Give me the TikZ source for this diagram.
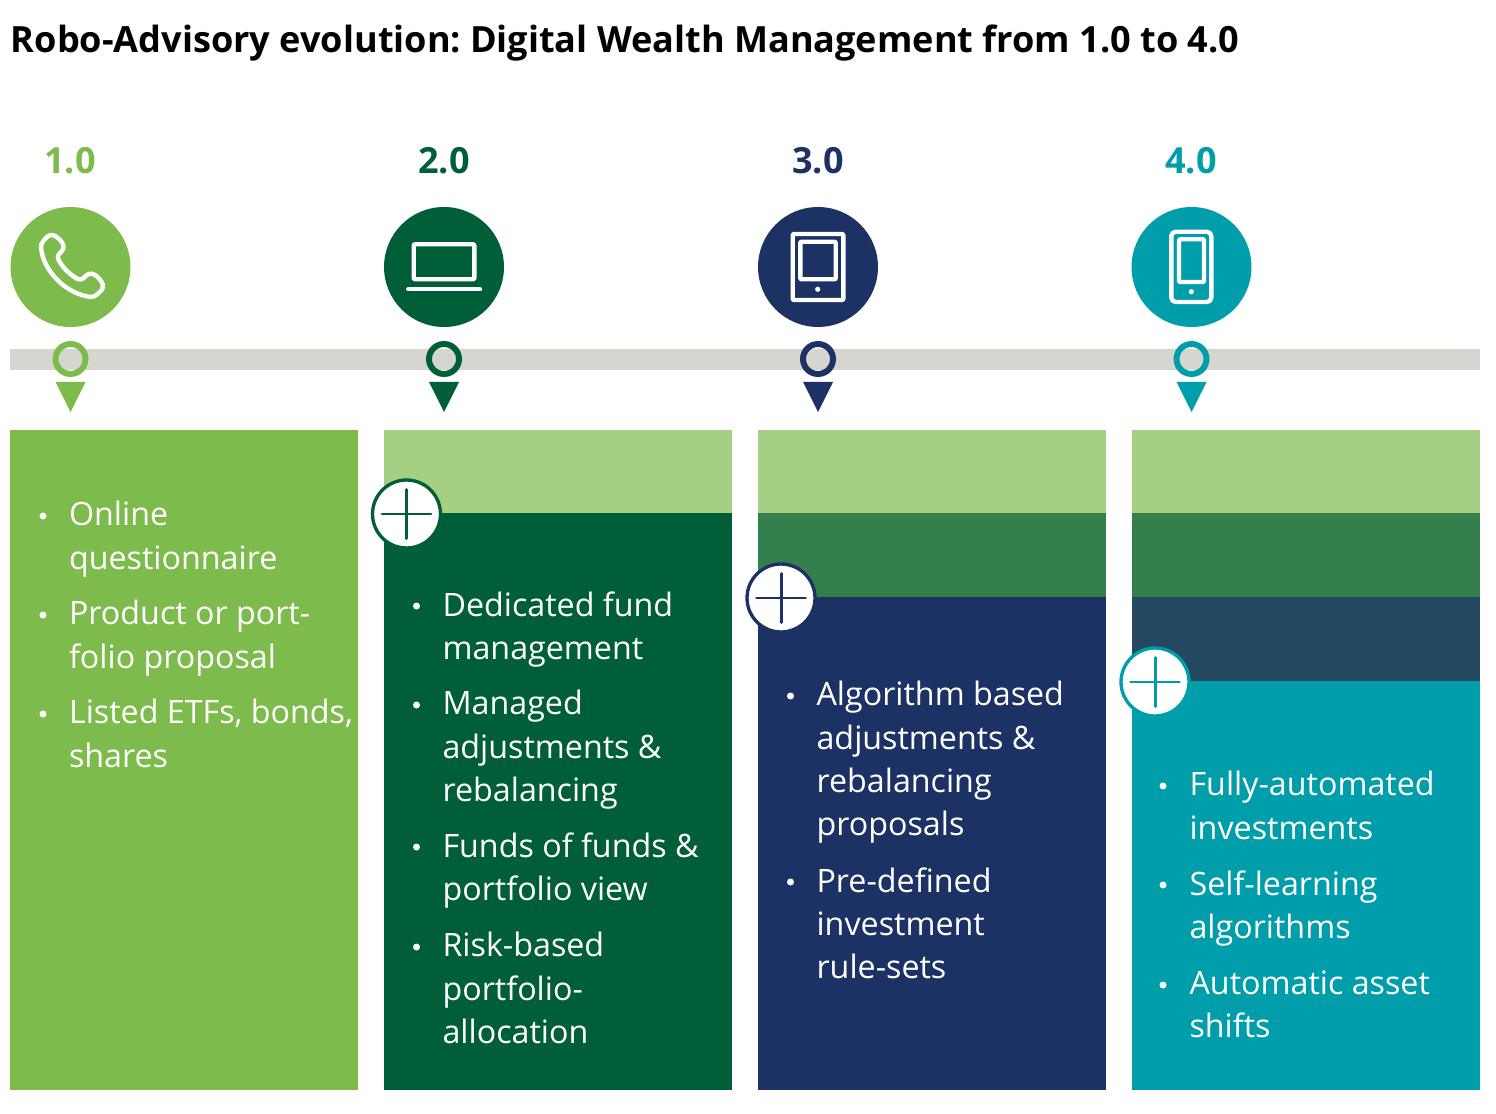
\documentclass[tikz,border=0pt]{standalone}
\usepackage{fontspec}
\setmainfont{Open Sans}
\definecolor{Leaf}{HTML}{7EBB4D}
\definecolor{LeafLight}{HTML}{A5CF82}
\definecolor{Forest}{HTML}{005F38}
\definecolor{ForestMid}{HTML}{34804D}
\definecolor{Navy}{HTML}{1D3264}
\definecolor{NavyMid}{HTML}{24485F}
\definecolor{Teal}{HTML}{009DAA}
\definecolor{Band}{HTML}{D5D6CF}
\tikzset{
    badge/.style={circle, fill=#1, minimum size=2.4cm, inner sep=0pt},
    pin/.style={circle, draw=#1, fill=none, line width=3.4pt, minimum size=0.6cm, inner sep=0pt},
    plusmark/.style={circle, draw=#1, fill=white, line width=1.9pt, minimum size=1.36cm, inner sep=0pt},
    version/.style={text=#1, font=\bfseries\fontsize{20.5}{24}\selectfont},
    itemtext/.style={anchor=north west, inner sep=0pt, text=white, align=left,
        font=\fontsize{18.35}{24.66}\selectfont, execute at begin node=\strut},
    itemdot/.style={circle, fill=white, minimum size=0.14cm, inner sep=0pt},
    icon/.style={draw=white, line width=2.5pt, line join=round, rounded corners=0.6pt},
}
\begin{document}
\begin{tikzpicture}[x=0.02cm, y=-0.02cm]
\useasboundingbox (0,0) rectangle (1496,1114);

% Title
\node[anchor=base west, inner sep=0pt, font=\bfseries\fontsize{20.55}{24}\selectfont] (title) at (10.5,53)
    {Robo-Advisory evolution:\hspace{-2pt} Digital Wealth Management from 1.0 to 4.0};

% Timeline band
\fill[Band] (10.3,349) rectangle (1480,370);

% Panel 1: phone
\begin{scope}[shift={(0,0)}]
    \node[version=Leaf] (ver1) at (70,161) {1.0};
    \node[badge=Leaf] (badge1) at (70.5,267) {};
    \draw[icon, rounded corners=2pt] (49.3,234.3) .. controls (57,236) and (63,242) .. (64,249.3) -- (56.7,256)
        .. controls (62,267) and (70,275) .. (81,280.7) -- (88.3,273.3)
        .. controls (96,274) and (102,281) .. (103.7,288.3) -- (94,297.3)
        .. controls (66,294) and (43,271) .. (40.7,244) -- cycle;
    \node[pin=Leaf] (pin1) at (70.5,359) {};
    \fill[Leaf] (55.5,382) -- (85.5,382) -- (70.5,412) -- cycle;
    \fill[Leaf] (10.3,429.5) rectangle (358.3,1090);
    \node[itemdot] (dot1a) at (43,516) {};
    \node[itemtext] (item1a) at (68.7,501) {Online\\questionnaire};
    \node[itemdot] (dot1b) at (43,615) {};
    \node[itemtext] (item1b) at (68.7,600) {Product or port-\\folio proposal};
    \node[itemdot] (dot1c) at (43,714) {};
    \node[itemtext] (item1c) at (68.7,699) {Listed ETFs, bonds,\\shares};
\end{scope}

% Panel 2: laptop
\begin{scope}[shift={(374,0)}]
    \node[version=Forest] (ver2) at (70,161) {2.0};
    \node[badge=Forest] (badge2) at (70,267) {};
    \draw[icon] (39.7,244.3) rectangle (100.3,279.3);
    \draw[icon, line cap=round] (34.3,289.3) -- (106,289.3);
    \node[pin=Forest] (pin2) at (70,359) {};
    \fill[Forest] (55,382) -- (85,382) -- (70,412) -- cycle;
    \fill[LeafLight] (10,429.5) rectangle (358,513);
    \fill[Forest] (10,513) rectangle (358,1090);
    \node[plusmark=Forest] (plus2) at (32.5,514) {};
    \draw[Forest, line width=1.7pt, line cap=round] (8,514) -- (57,514) (32.5,489.5) -- (32.5,538.5);
    \node[itemdot] (dot2a) at (42.5,606) {};
    \node[itemtext] (item2a) at (68.2,591) {Dedicated fund\\management};
    \node[itemdot] (dot2b) at (42.5,705) {};
    \node[itemtext] (item2b) at (68.2,690) {Managed\\adjustments \&\\rebalancing};
    \node[itemdot] (dot2c) at (42.5,847) {};
    \node[itemtext] (item2c) at (68.2,832) {Funds of funds \&\\portfolio view};
    \node[itemdot] (dot2d) at (42.5,947) {};
    \node[itemtext] (item2d) at (68.2,932) {Risk-based\\portfolio-\\allocation};
\end{scope}

% Panel 3: tablet
\begin{scope}[shift={(748,0)}]
    \node[version=Navy] (ver3) at (70,161) {3.0};
    \node[badge=Navy] (badge3) at (70,267) {};
    \draw[icon] (44.7,234) rectangle (95.3,300);
    \draw[icon] (52.3,241.7) rectangle (87.7,279.3);
    \fill[white] (69.7,289.3) circle (2.6);
    \node[pin=Navy] (pin3) at (70,359) {};
    \fill[Navy] (55,382) -- (85,382) -- (70,412) -- cycle;
    \fill[LeafLight] (10,429.5) rectangle (358,513);
    \fill[ForestMid] (10,513) rectangle (358,597);
    \fill[Navy] (10,597) rectangle (358,1090);
    \node[plusmark=Navy] (plus3) at (33,598) {};
    \draw[Navy, line width=1.7pt, line cap=round] (8.5,598) -- (57.5,598) (33,573.5) -- (33,622.5);
    \node[itemdot] (dot3a) at (42.5,696) {};
    \node[itemtext] (item3a) at (68.2,681) {Algorithm based\\adjustments \&\\rebalancing\\proposals};
    \node[itemdot] (dot3b) at (42.5,882) {};
    \node[itemtext] (item3b) at (68.2,867) {Pre-defined\\investment\\rule-sets};
\end{scope}

% Panel 4: smartphone
\begin{scope}[shift={(1122,0)}]
    \node[version=Teal] (ver4) at (69,161) {4.0};
    \node[badge=Teal] (badge4) at (69.5,267) {};
    \draw[icon, rounded corners=2.5pt] (49.3,231.7) rectangle (89.3,302);
    \draw[icon] (57,239.3) rectangle (82,282);
    \fill[white] (69.3,291.7) circle (2.6);
    \node[pin=Teal] (pin4) at (69.5,359) {};
    \fill[Teal] (54.5,382) -- (84.5,382) -- (69.5,412) -- cycle;
    \fill[LeafLight] (10,429.5) rectangle (358,513);
    \fill[ForestMid] (10,513) rectangle (358,597);
    \fill[NavyMid] (10,597) rectangle (358,681);
    \fill[Teal] (10,681) rectangle (358,1090);
    \node[plusmark=Teal] (plus4) at (33,682) {};
    \draw[Teal, line width=1.7pt, line cap=round] (8.5,682) -- (57.5,682) (33,657.5) -- (33,706.5);
    \node[itemdot] (dot4a) at (41,786) {};
    \node[itemtext] (item4a) at (67.2,771) {Fully-automated\\investments};
    \node[itemdot] (dot4b) at (41,885) {};
    \node[itemtext] (item4b) at (67.2,870) {Self-learning\\algorithms};
    \node[itemdot] (dot4c) at (41,985) {};
    \node[itemtext] (item4c) at (67.2,970) {Automatic asset\\shifts};
\end{scope}

\end{tikzpicture}
\end{document}
